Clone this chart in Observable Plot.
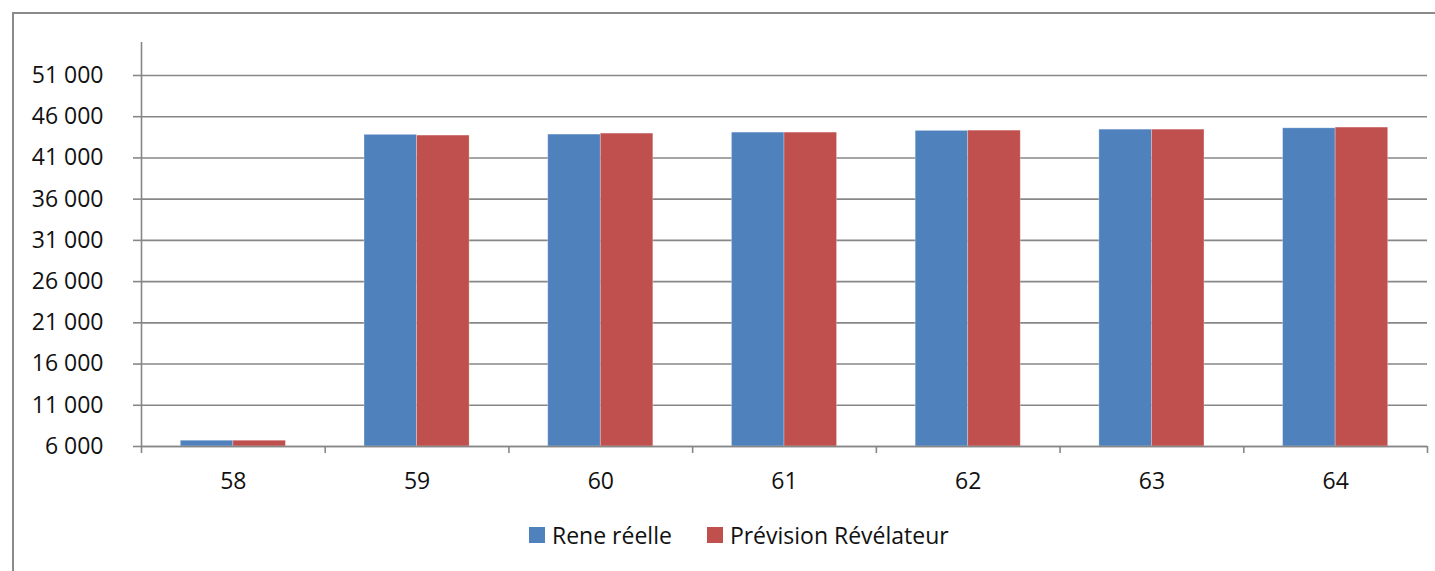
<!DOCTYPE html>
<html>
<head>
<meta charset="utf-8">
<script src="https://cdn.jsdelivr.net/npm/d3@7"></script>
<script src="https://cdn.jsdelivr.net/npm/@observablehq/plot@0.6"></script>
<style>
  html, body { margin: 0; padding: 0; background: #fff; }
  body { width: 1435px; height: 571px; position: relative; overflow: hidden; font-family: "Open Sans", sans-serif; }
  #frame { position: absolute; left: 12px; top: 12px; width: 1500px; height: 600px; border-left: 2px solid #8a8a8a; border-top: 2px solid #8a8a8a; }
  #chart { position: absolute; left: 0; top: 0; }
  #legend { position: absolute; left: 529px; top: 519px; display: flex; align-items: center; font-size: 23px; color: #111; }
  .item { display: flex; align-items: center; }
  .sw { width: 16px; height: 16px; margin-right: 7px; }
</style>
</head>
<body>
<div id="frame"></div>
<div id="chart"></div>
<div id="legend"></div>
<script>
// ---- data ----
const categories = [58, 59, 60, 61, 62, 63, 64];
const reneReelle = [6700, 43800, 43830, 44070, 44280, 44430, 44590];
const previsionRevelateur = [6700, 43710, 43950, 44070, 44310, 44430, 44680];
const seriesNames = ["Rene réelle", "Prévision Révélateur"];
const seriesColors = ["#4F81BD", "#C0504D"];
const yTicks = [6000, 11000, 16000, 21000, 26000, 31000, 36000, 41000, 46000, 51000];
const yMin = 6000, yMax = 55000;

// layout constant: half width of each category's bar group, in category steps
const groupHalf = 0.286;

const rows = [];
categories.forEach((c, i) => {
  rows.push({cat: c, series: seriesNames[0], value: reneReelle[i], x1: c - groupHalf, x2: c});
  rows.push({cat: c, series: seriesNames[1], value: previsionRevelateur[i], x1: c, x2: c + groupHalf});
});
const boundaries = [categories[0] - 0.5, ...categories.map(c => c + 0.5)];

const fmt = d => d3.format(",")(d).replace(/,/g, " ");
const grey = "#878787";

const plot = Plot.plot({
  width: 1435,
  height: 510,
  marginLeft: 141,
  marginRight: 8,
  marginTop: 42,
  marginBottom: 64,
  style: {fontFamily: "Open Sans, sans-serif", fontSize: "23px", color: "#111", background: "transparent", overflow: "visible"},
  x: {type: "linear", domain: [categories[0] - 0.5, categories[categories.length - 1] + 0.5]},
  y: {domain: [yMin, yMax]},
  color: {domain: seriesNames, range: seriesColors},
  marks: [
    Plot.gridY(yTicks, {stroke: grey, strokeOpacity: 1, strokeWidth: 1.6}),
    Plot.rectY(rows, {x1: "x1", x2: "x2", y1: yMin, y2: "value", fill: "series", stroke: "white", strokeOpacity: 0.35, strokeWidth: 0.8}),
    Plot.ruleX([boundaries[0]], {y1: yMin, y2: yMax, stroke: grey, strokeWidth: 1.6}),
    Plot.ruleY([yMin], {stroke: grey, strokeWidth: 1.6}),
    Plot.axisY(yTicks, {tickSize: 8, tickPadding: 30, tickFormat: fmt, stroke: grey, strokeWidth: 1.6, label: null, fill: "#111"}),
    Plot.axisX(boundaries, {tickSize: 7, tickFormat: () => "", stroke: grey, strokeWidth: 1.6, label: null}),
    Plot.axisX(categories, {tickSize: 0, tickPadding: 26, tickFormat: d => String(d), label: null, fill: "#111"})
  ]
});
document.getElementById("chart").appendChild(plot);

const legend = document.getElementById("legend");
seriesNames.forEach((name, i) => {
  const item = document.createElement("div");
  item.className = "item";
  if (i > 0) item.style.marginLeft = "35px";
  const sw = document.createElement("div");
  sw.className = "sw";
  sw.style.background = seriesColors[i];
  const t = document.createElement("span");
  t.textContent = name;
  item.appendChild(sw);
  item.appendChild(t);
  legend.appendChild(item);
});
</script>
</body>
</html>
